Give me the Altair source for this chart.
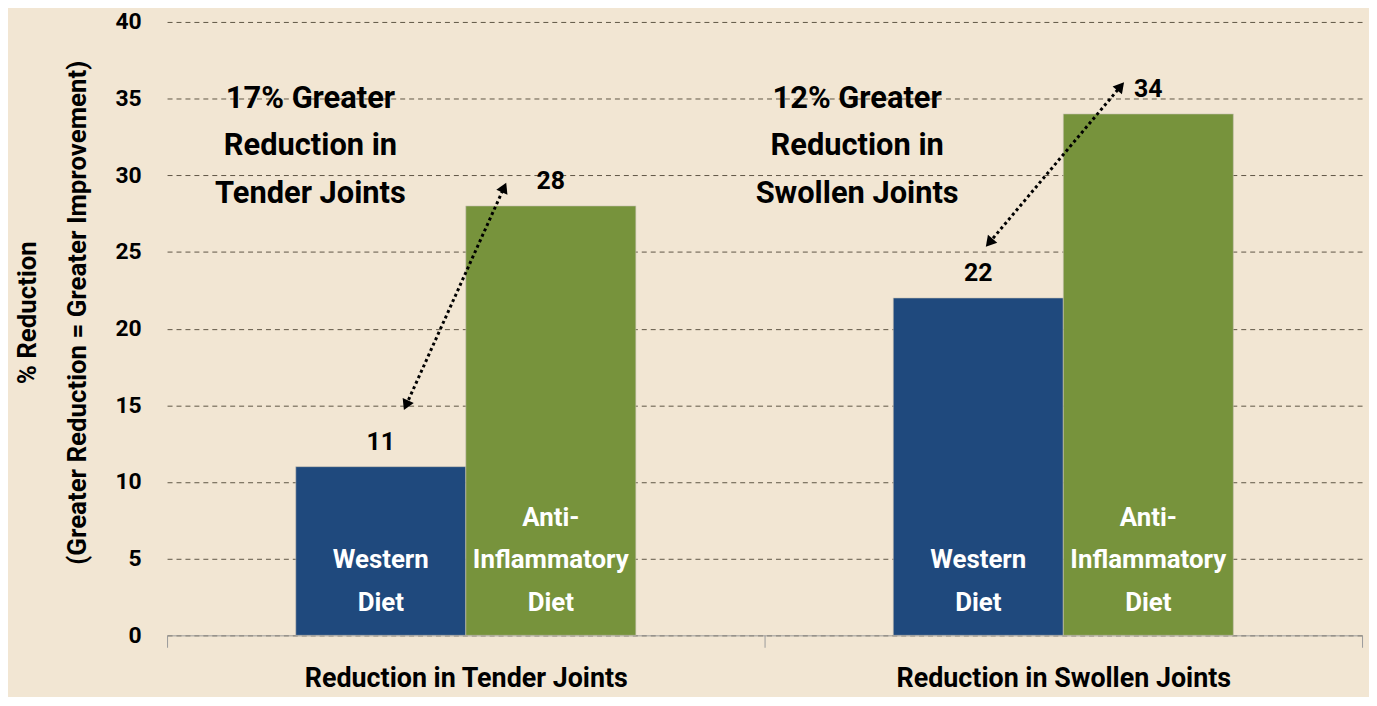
import math
import altair as alt
import pandas as pd

categories = ["Reduction in Tender Joints", "Reduction in Swollen Joints"]
diets = ["Western Diet", "Anti-Inflammatory Diet"]
diet_inside = [["Western", "Diet"], ["Anti-", "Inflammatory", "Diet"]]
western = [11, 22]
anti = [28, 34]

notes = ["17% Greater\nReduction in\nTender Joints", "12% Greater\nReduction in\nSwollen Joints"]
note_x = [0.24, 1.155]
note_y = [35.0, 35.0]

arrow_x1 = [0.40, 1.376]
arrow_y1 = [15.0, 25.6]
arrow_x2 = [0.564, 1.596]
arrow_y2 = [29.2, 35.8]

FONT = "Roboto"
BG = "#F2E6D3"
W, H = 1202, 617
YMAX = 40
INSIDE_LH = 43
LAST_LINE_Y = 2.1  # value level of the last line inside the bars

rows = []
for i, c in enumerate(categories):
    for j, (d, v) in enumerate(zip(diets, [western[i], anti[i]])):
        lines = diet_inside[j]
        first_y = LAST_LINE_Y + (len(lines) - 1) * INSIDE_LH * YMAX / H
        rows.append({"category": c, "diet": d, "value": v,
                     "inside": "\n".join(lines), "first": first_y})
bars_df = pd.DataFrame(rows)

arrows = []
heads = []
for x1, y1, x2, y2 in zip(arrow_x1, arrow_y1, arrow_x2, arrow_y2):
    dx = (x2 - x1) * W / 2
    dy = (y2 - y1) * H / YMAX
    ang = math.degrees(math.atan2(dx, dy))
    arrows.append({"x1": x1, "y1": y1, "x2": x2, "y2": y2})
    heads.append({"x": x2, "y": y2, "angle": ang % 360})
    heads.append({"x": x1, "y": y1, "angle": (ang + 180) % 360})
arrows_df = pd.DataFrame(arrows)
heads_df = pd.DataFrame(heads)
notes_df = pd.DataFrame({"x": note_x, "y": note_y, "text": notes})

yscale = alt.Scale(domain=[0, YMAX])
xq = alt.Scale(domain=[0, 2], nice=False, zero=False)

base = alt.Chart(bars_df).encode(
    x=alt.X("category:N", sort=categories,
            scale=alt.Scale(paddingInner=0, paddingOuter=0),
            axis=alt.Axis(title=None, labelAngle=0, labelFontSize=27, labelFont=FONT,
                          labelFontWeight="bold", labelColor="black", labelLimit=600,
                          tickBand="extent", tickSize=12, tickColor="#9a9a9a",
                          domainColor="#9a9a9a", labelPadding=18)),
    xOffset=alt.XOffset("diet:N", sort=diets,
                        scale=alt.Scale(paddingInner=0, paddingOuter=0.757)),
)

bars = base.mark_bar(stroke="#c9c2b4", strokeWidth=0.6).encode(
    y=alt.Y("value:Q", scale=yscale,
            axis=alt.Axis(values=list(range(0, 41, 5)),
                          title=["% Reduction", "(Greater Reduction = Greater Improvement)"],
                          titleFontSize=26, titleFont=FONT, titleFontWeight="bold",
                          titleColor="black", titleLineHeight=50, titleAngle=270,
                          titleX=-140, titleY=292, titleBaseline="middle", titleAlign="center",
                          labelFontSize=23, labelFont=FONT, labelFontWeight="bold",
                          labelColor="black", labelPadding=26, ticks=False, domain=False,
                          grid=True, gridDash=[5, 4], gridColor="#5f5646", gridWidth=1)),
    color=alt.Color("diet:N", sort=diets,
                    scale=alt.Scale(domain=diets, range=["#1F497D", "#77933C"]), legend=None),
)

value_labels = base.mark_text(font=FONT, fontWeight="bold", fontSize=25, color="black",
                              baseline="bottom", dy=-12).encode(
    y=alt.Y("value:Q", scale=yscale), text="value:Q")

inside_labels = base.mark_text(font=FONT, fontWeight="bold", fontSize=26, color="white",
                               baseline="middle", lineBreak="\n", lineHeight=INSIDE_LH).encode(
    y=alt.Y("first:Q", scale=yscale), text="inside:N")

band_layer = alt.layer(bars, value_labels, inside_labels)

arrow_lines = alt.Chart(arrows_df).mark_rule(strokeDash=[3, 3], strokeWidth=3, color="black").encode(
    x=alt.X("x1:Q", scale=xq, axis=None), x2="x2:Q",
    y=alt.Y("y1:Q", scale=yscale), y2="y2:Q")

arrow_heads = alt.Chart(heads_df).mark_point(shape="triangle-up", filled=True, size=150,
                                             color="black", opacity=1).encode(
    x=alt.X("x:Q", scale=xq, axis=None),
    y=alt.Y("y:Q", scale=yscale), angle=alt.Angle("angle:Q", scale=None))

note_text = alt.Chart(notes_df).mark_text(font=FONT, fontWeight="bold", fontSize=31, color="black",
                                          baseline="middle", lineBreak="\n", lineHeight=48).encode(
    x=alt.X("x:Q", scale=xq, axis=None),
    y=alt.Y("y:Q", scale=yscale), text="text:N")

q_layer = alt.layer(arrow_lines, arrow_heads, note_text)

chart = alt.layer(band_layer, q_layer).resolve_scale(x="independent").properties(
    width=W, height=H,
    autosize=alt.AutoSizeParams(type="none"),
    padding={"left": 160, "top": 12, "right": 7, "bottom": 60},
    background=BG,
).configure_view(stroke=None)

chart.save("out.html", embed_options={"renderer": "svg", "actions": False})
